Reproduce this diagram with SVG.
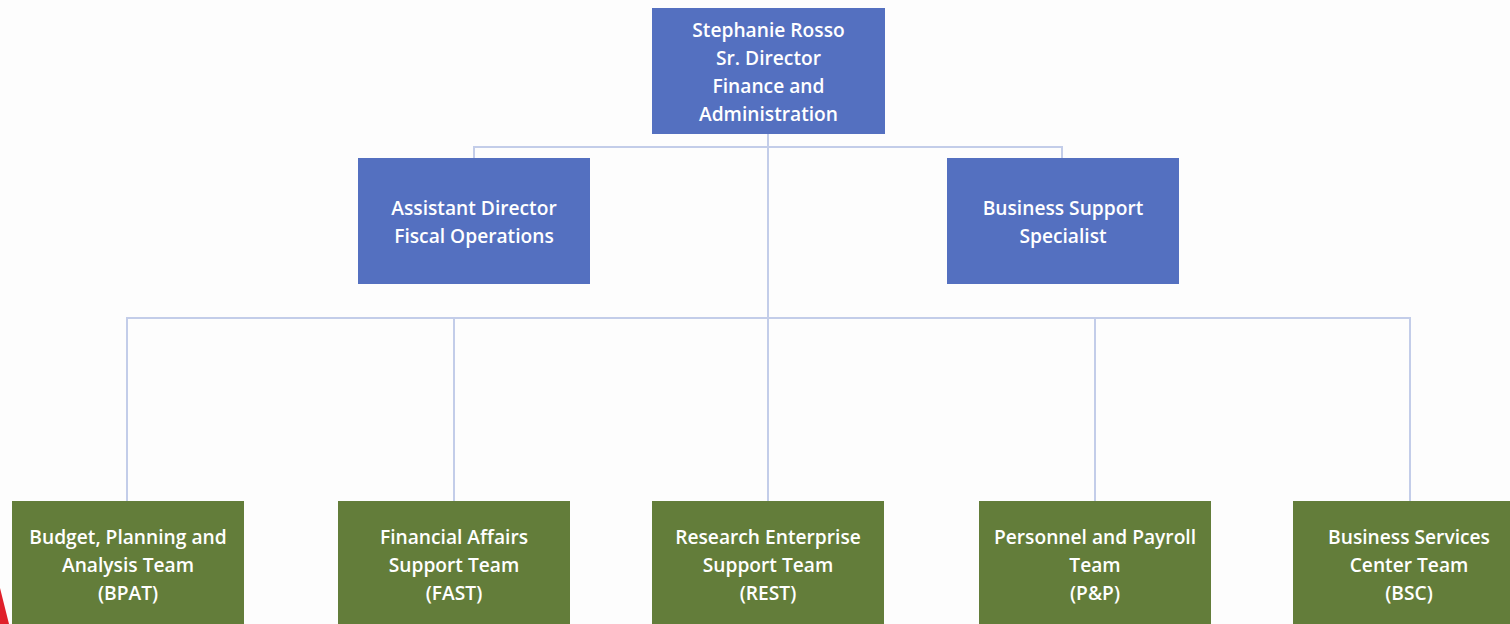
<svg xmlns="http://www.w3.org/2000/svg" width="1510" height="624" viewBox="0 0 1510 624">
  <style>
    .lead { fill: #5470c0; }
    .team { fill: #637d3a; }
    .label { fill: #ffffff; font-family: "Open Sans", "Liberation Sans", sans-serif; font-size: 19.2px; font-weight: 600; text-anchor: middle; }
    .link { fill: none; stroke: #c3cde9; stroke-width: 2; }
  </style>
  <rect width="1510" height="624" fill="#fdfdfd"/>

  <!-- reporting lines -->
  <g id="connectors">
    <path class="link" d="M768 134 V318"/>
    <path class="link" d="M474 158 V147 H1062 V158"/>
    <path class="link" d="M127 501 V318 H1410 V501"/>
    <path class="link" d="M454 318 V501"/>
    <path class="link" d="M768 318 V501"/>
    <path class="link" d="M1095 318 V501"/>
  </g>

  <g id="node-sr-director">
    <rect class="lead" x="652" y="8" width="233" height="126"/>
    <text class="label" x="768.5" y="37">Stephanie Rosso</text>
    <text class="label" x="768.5" y="65">Sr. Director</text>
    <text class="label" x="768.5" y="93">Finance and</text>
    <text class="label" x="768.5" y="121">Administration</text>
  </g>

  <g id="node-assistant-director">
    <rect class="lead" x="358" y="158" width="232" height="126"/>
    <text class="label" x="474" y="215">Assistant Director</text>
    <text class="label" x="474" y="243">Fiscal Operations</text>
  </g>

  <g id="node-business-support">
    <rect class="lead" x="947" y="158" width="232" height="126"/>
    <text class="label" x="1063" y="215">Business Support</text>
    <text class="label" x="1063" y="243">Specialist</text>
  </g>

  <g id="node-bpat">
    <rect class="team" x="12" y="501" width="232" height="130"/>
    <text class="label" x="128" y="544">Budget, Planning and</text>
    <text class="label" x="128" y="572">Analysis Team</text>
    <text class="label" x="128" y="600">(BPAT)</text>
  </g>

  <g id="node-fast">
    <rect class="team" x="338" y="501" width="232" height="130"/>
    <text class="label" x="454" y="544">Financial Affairs</text>
    <text class="label" x="454" y="572">Support Team</text>
    <text class="label" x="454" y="600">(FAST)</text>
  </g>

  <g id="node-rest">
    <rect class="team" x="652" y="501" width="232" height="130"/>
    <text class="label" x="768" y="544">Research Enterprise</text>
    <text class="label" x="768" y="572">Support Team</text>
    <text class="label" x="768" y="600">(REST)</text>
  </g>

  <g id="node-pp">
    <rect class="team" x="979" y="501" width="232" height="130"/>
    <text class="label" x="1095" y="544">Personnel and Payroll</text>
    <text class="label" x="1095" y="572">Team</text>
    <text class="label" x="1095" y="600">(P&amp;P)</text>
  </g>

  <g id="node-bsc">
    <rect class="team" x="1293" y="501" width="232" height="130"/>
    <text class="label" x="1409" y="544">Business Services</text>
    <text class="label" x="1409" y="572">Center Team</text>
    <text class="label" x="1409" y="600">(BSC)</text>
  </g>

  <!-- red wedge at the lower-left edge -->
  <polygon points="0,588 9,624 0,624" fill="#e0202a"/>
</svg>
